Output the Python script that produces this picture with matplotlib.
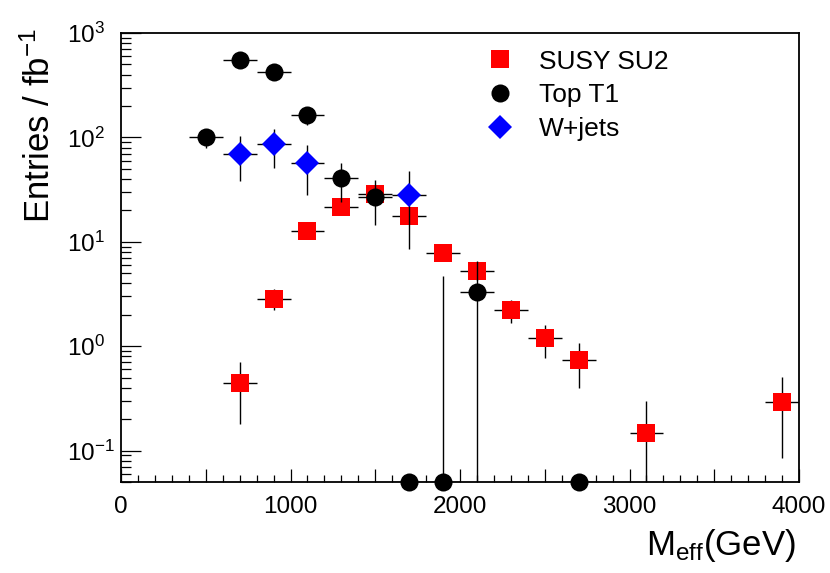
import numpy as np
import matplotlib
matplotlib.use('Agg')
import matplotlib.pyplot as plt
from matplotlib.lines import Line2D
from matplotlib.ticker import LogLocator, NullFormatter, MultipleLocator

plt.rcParams['font.family'] = ['Liberation Sans', 'DejaVu Sans']
plt.rcParams['mathtext.fontset'] = 'custom'
plt.rcParams['mathtext.rm'] = 'Liberation Sans'
plt.rcParams['mathtext.it'] = 'Liberation Sans:italic'
plt.rcParams['mathtext.bf'] = 'Liberation Sans:bold'
plt.rcParams['mathtext.default'] = 'regular'

# ---------------- data ----------------
bin_half_width = 100

susy_x = [700, 900, 1100, 1300, 1500, 1700, 1900, 2100, 2300, 2500, 2700, 3100, 3900]
susy_y = [0.44, 2.85, 12.7, 21.5, 28.5, 17.7, 7.8, 5.25, 2.24, 1.19, 0.74, 0.146, 0.295]
susy_err = [0.26, 0.65, 1.4, 1.8, 2.1, 1.6, 1.1, 0.9, 0.56, 0.42, 0.34, 0.15, 0.21]

top_x = [500, 700, 900, 1100, 1300, 1500, 1700, 1900, 2100, 2700]
top_y = [100, 550, 420, 163, 40.5, 27, 0.01, 0.01, 3.3, 0.01]
top_err = [20, 57, 50, 31, 16.5, 12.5, 0.0, 4.7, 3.3, 0.0]

wjets_x = [700, 900, 1100, 1700]
wjets_y = [70, 86, 56.5, 28.2]
wjets_err = [32, 35, 28.5, 19.7]

labels = ['SUSY SU2', 'Top T1', 'W+jets']
x_range = (0, 4000)
y_range = (0.05, 1000)
x_major = np.arange(0, 4001, 500)

# ---------------- figure ----------------
fig = plt.figure(figsize=(8.3, 5.73), dpi=100)
ax = fig.add_axes([121 / 830, 1 - 482 / 573, 678 / 830, 449 / 573])
ax.set_yscale('log')
ax.set_xlim(*x_range)
ax.set_ylim(*y_range)


def draw(ax, x, y, err, marker, color, ms, z):
    x = np.asarray(x, float)
    y = np.asarray(y, float)
    e = np.asarray(err, float)
    ymin = ax.get_ylim()[0]
    yp = np.maximum(y, ymin)
    lo = np.maximum(y - e, ymin)
    hi = np.maximum(y + e, ymin)
    ax.vlines(x, lo, hi, colors='black', lw=1.0, zorder=z)
    ax.hlines(yp, x - bin_half_width, x + bin_half_width, colors='black', lw=1.0, zorder=z)
    ax.plot(x, yp, ls='none', marker=marker, ms=ms, color=color, mec=color, mew=0,
            zorder=z + 0.05, clip_on=False)


draw(ax, susy_x, susy_y, susy_err, 's', '#ff0000', 13, 3)
draw(ax, top_x, top_y, top_err, 'o', 'black', 13, 4)
draw(ax, wjets_x, wjets_y, wjets_err, 'D', '#0000ff', 12.5, 5)

# ticks
ax.set_xticks(x_major, [str(int(t)) if t % 1000 == 0 else '' for t in x_major])
ax.xaxis.set_minor_locator(MultipleLocator(100))
ax.tick_params(axis='x', which='major', direction='in', length=9.4, width=0.9,
               labelsize=17.5, pad=10, top=False)
ax.tick_params(axis='x', which='minor', direction='in', length=5, width=0.9, top=False)
ax.yaxis.set_major_locator(LogLocator(base=10, numticks=12))
ax.yaxis.set_minor_locator(LogLocator(base=10, subs=np.arange(2, 10), numticks=12))
ax.yaxis.set_minor_formatter(NullFormatter())
ax.tick_params(axis='y', which='major', direction='in', length=14.5, width=0.9,
               labelsize=17.5, pad=39, right=False)
ax.tick_params(axis='y', which='minor', direction='in', length=7.2, width=0.9, right=False)
for s in ax.spines.values():
    s.set_linewidth(1.3)

# legend
handles = [
    Line2D([], [], ls='none', marker='s', color='#ff0000', mew=0, ms=13),
    Line2D([], [], ls='none', marker='o', color='black', mew=0, ms=13),
    Line2D([], [], ls='none', marker='D', color='#0000ff', mew=0, ms=12.5),
]
ax.legend(handles, labels, loc='upper left', bbox_to_anchor=(0.540, 0.963),
          frameon=False, fontsize=19, handlelength=0.95, handletextpad=1.0,
          labelspacing=0.37, borderpad=0, borderaxespad=0)

# axis titles
fig.text(0.048, 0.951, r'Entries / fb$^{-1}$', rotation=90, ha='center', va='top', fontsize=25)
fig.text(796 / 830, 1 - 555 / 573, r'M$_{eff}$(GeV)', ha='right', va='baseline', fontsize=25)

fig.canvas.draw()
for lab in ax.get_yticklabels():
    lab.set_horizontalalignment('left')

fig.savefig('out.png', dpi=100)
